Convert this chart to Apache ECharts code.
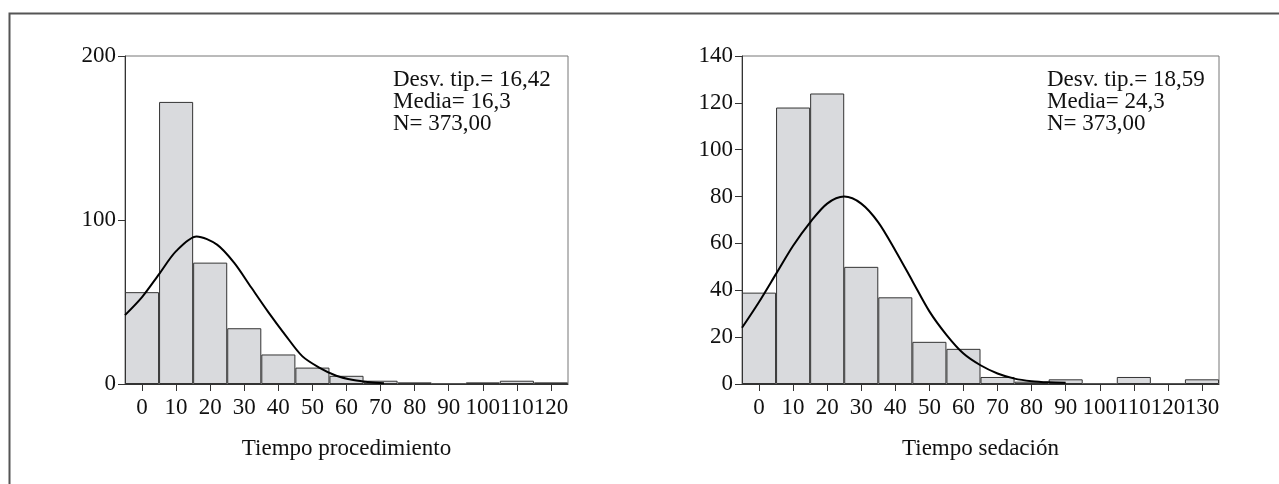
<!DOCTYPE html>
<html>
<head>
<meta charset="utf-8">
<script src="https://cdn.jsdelivr.net/npm/echarts@6/dist/echarts.min.js"></script>
<style>
html,body{margin:0;padding:0;background:#fff;}
#c{width:1279px;height:484px;}
</style>
</head>
<body>
<div id="c"></div>
<script>
// ---- data ----
const procCategories = ['0','10','20','30','40','50','60','70','80','90','100','110','120'];
const procCounts = [56, 172, 74, 34, 18, 10, 5, 2, 1, 0, 1, 2, 1];
const procCurve = [[-5,42],[0,53],[5,67],[10,81],[16,90],[22,85],[27,74],[32,59],[37,44],[42,30],[47,17],[52,10],[57,5],[62,2.4],[67,1],[71,0.4]];
const procStats = ['Desv. tip.= 16,42', 'Media= 16,3', 'N= 373,00'];

const sedCategories = ['0','10','20','30','40','50','60','70','80','90','100','110','120','130'];
const sedCounts = [39, 118, 124, 50, 37, 18, 15, 3, 1, 2, 0, 3, 0, 2];
const sedCurve = [[-5,24],[0,35],[5,47],[10,59],[15,69],[20,77],[25,80],[30,77],[35,69],[40,57],[45,44],[50,31],[55,21],[60,13],[65,8],[70,4.5],[75,2.3],[80,1.2],[85,0.7],[90,0.5]];
const sedStats = ['Desv. tip.= 18,59', 'Media= 24,3', 'N= 373,00'];

const procYTicks = {min:0, max:200, interval:100};
const sedYTicks = {min:0, max:140, interval:20};

// ---- styles ----
const FONT = 'Liberation Serif';
const TXT = '#111';
const AX = '#333';

function catAxis(gridIndex, cats, name) {
  return {
    type:'category', gridIndex, data:cats, boundaryGap:true, position:'bottom',
    axisLine:{show:true, onZero:false, lineStyle:{color:AX, width:1}},
    axisTick:{show:true, alignWithLabel:true, length:7, lineStyle:{color:AX}},
    axisLabel:{interval:0, margin:12, fontFamily:FONT, fontSize:23, color:TXT, hideOverlap:false},
    name, nameLocation:'middle', nameGap:53,
    nameTextStyle:{fontFamily:FONT, fontSize:23, color:TXT},
    splitLine:{show:false}
  };
}
function valXAxis(gridIndex, min, max) {
  return {type:'value', gridIndex, min, max, show:false, position:'bottom',
          axisLine:{onZero:false}};
}
function yAxis(gridIndex, t) {
  return {
    type:'value', gridIndex, min:t.min, max:t.max, interval:t.interval, position:'left',
    axisLine:{show:true, onZero:false, lineStyle:{color:AX, width:1}},
    axisTick:{show:true, length:7, lineStyle:{color:AX}},
    axisLabel:{margin:9, fontFamily:FONT, fontSize:23, color:TXT},
    splitLine:{show:false}
  };
}
const barStyle = {color:'#d9dadd', borderColor:'#333', borderWidth:1};

function statsText(left, lines) {
  return {
    type:'text', left, top:68, z:10,
    style:{text:lines.join('\n'), font:'23px "' + FONT + '"', fill:TXT, lineHeight:22}
  };
}

const chart = echarts.init(document.getElementById('c'), null, {renderer:'canvas'});
chart.setOption({
  animation:false,
  backgroundColor:'#fff',
  grid:[
    {left:125, top:56, width:443, height:328, show:true, borderColor:'#777', borderWidth:1, backgroundColor:'transparent'},
    {left:742, top:56, width:477, height:328, show:true, borderColor:'#777', borderWidth:1, backgroundColor:'transparent'}
  ],
  xAxis:[
    catAxis(0, procCategories, 'Tiempo procedimiento'),
    valXAxis(0, -5, 125),
    catAxis(1, sedCategories, 'Tiempo sedación'),
    valXAxis(1, -5, 135)
  ],
  yAxis:[yAxis(0, procYTicks), yAxis(1, sedYTicks)],
  series:[
    {type:'bar', xAxisIndex:0, yAxisIndex:0, data:procCounts, barWidth:'100%', barGap:'0%', itemStyle:barStyle, silent:true},
    {type:'line', xAxisIndex:1, yAxisIndex:0, data:procCurve, smooth:0.3, showSymbol:false, symbol:'none', lineStyle:{color:'#000', width:2}, z:5},
    {type:'bar', xAxisIndex:2, yAxisIndex:1, data:sedCounts, barWidth:'100%', barGap:'0%', itemStyle:barStyle, silent:true},
    {type:'line', xAxisIndex:3, yAxisIndex:1, data:sedCurve, smooth:0.3, showSymbol:false, symbol:'none', lineStyle:{color:'#000', width:2}, z:5}
  ],
  graphic:[
    {type:'rect', left:7, top:11, z:-1, silent:true,
     shape:{width:1400, height:600}, style:{fill:'none', stroke:'#555', lineWidth:2}},
    statsText(393, procStats),
    statsText(1047, sedStats)
  ]
});
</script>
</body>
</html>
